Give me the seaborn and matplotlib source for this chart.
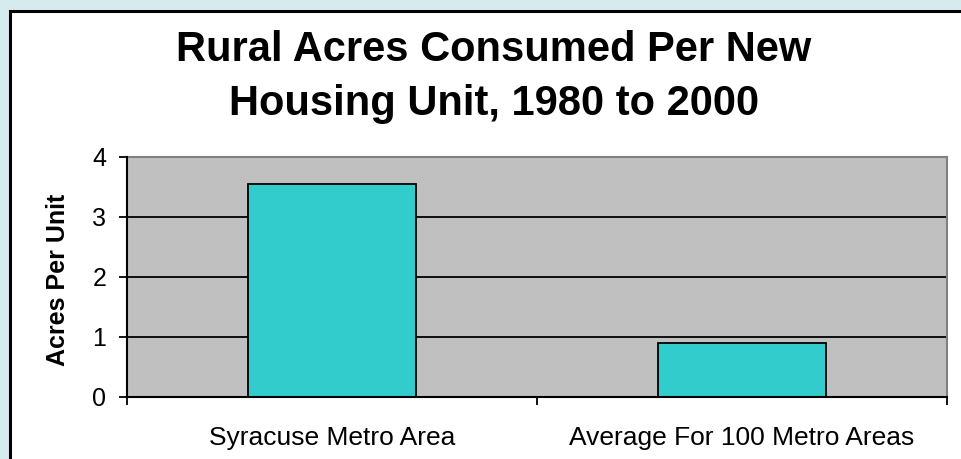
import matplotlib
matplotlib.use("Agg")
import matplotlib.pyplot as plt
from matplotlib.patches import Rectangle
from matplotlib.ticker import FixedLocator
import seaborn as sns
import pandas as pd

categories = ["Syracuse Metro Area", "Average For 100 Metro Areas"]
values = [3.55, 0.9]
yticks = [0, 1, 2, 3, 4]
title = "Rural Acres Consumed Per New\nHousing Unit, 1980 to 2000"
ylabel = "Acres Per Unit"

sns.set_style("white")
plt.rcParams['font.family'] = ['Liberation Sans', 'DejaVu Sans']
plt.rcParams['text.color'] = 'black'
plt.rcParams['axes.labelcolor'] = 'black'
plt.rcParams['xtick.color'] = 'black'
plt.rcParams['ytick.color'] = 'black'

df = pd.DataFrame({"cat": categories, "val": values})

fig = plt.figure(figsize=(9.61, 4.59), dpi=100)
fig.patch.set_facecolor("#D6EBEE")

# white panel with black border
panel = Rectangle((9.5 / 961, -0.05), 1.1, 1 - 10.5 / 459 + 0.05,
                  transform=fig.transFigure, facecolor="white",
                  edgecolor="black", linewidth=2.2, zorder=-5)
fig.patches.append(panel)

ax = fig.add_axes([127 / 961, 1 - 397 / 459, 820 / 961, 240 / 459])
ax.set_zorder(2)
ax.set_facecolor("#C0C0C0")

sns.barplot(data=df, x="cat", y="val", color="#33CCCC", saturation=1,
            width=0.41, edgecolor="black", linewidth=1.3, ax=ax, zorder=3)

ax.set_ylim(0, 4)
ax.set_xlim(-0.5, 1.5)
ax.set_yticks(yticks)
ax.set_yticklabels([str(t) for t in yticks])

for y in yticks[1:-1]:
    ax.axhline(y, color="black", linewidth=1.3, zorder=1)

for s in ["top", "right"]:
    ax.spines[s].set_color("#808080")
    ax.spines[s].set_linewidth(1.5)
for s in ["left", "bottom"]:
    ax.spines[s].set_color("black")
    ax.spines[s].set_linewidth(1.5)
    ax.spines[s].set_zorder(5)

ax.tick_params(axis="y", which="major", direction="out", length=6, width=1.3,
               color="black", pad=9, labelsize=18, left=True)
ax.tick_params(axis="x", which="major", length=0, pad=21, labelsize=19)
ax.xaxis.set_minor_locator(FixedLocator([-0.5, 0.5, 1.5]))
ax.tick_params(axis="x", which="minor", direction="out", length=6, width=1.3,
               color="black", bottom=True)

ax.set_xlabel("")
ax.set_ylabel(ylabel, fontsize=18, fontweight="bold")
ax.yaxis.set_label_coords(-0.070, 0.49)

fig.text(494 / 961, 1 - 77 / 459, title, ha="center", va="center",
         fontsize=30, fontweight="bold", linespacing=1.42, color="black")

fig.savefig("out.png", dpi=100, facecolor=fig.get_facecolor())
